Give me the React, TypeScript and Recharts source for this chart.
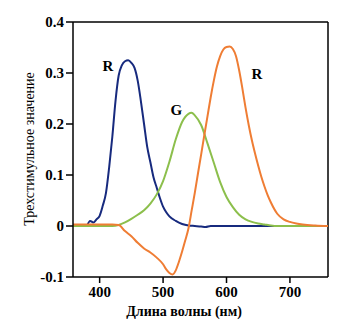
import { LineChart, Line, XAxis, YAxis, ReferenceLine, ReferenceDot, Label } from 'recharts';

// wavelength (nm) and tristimulus values
const blueNm = [380, 385, 390, 395, 400, 405, 410, 415, 420, 425, 430, 435, 440, 445, 450, 455, 460, 465, 470, 475, 480, 485, 490, 495, 500, 505, 510, 520, 530, 540, 550, 560, 567, 575, 600, 650, 700, 760];
const blueVal = [0, 0.01, 0.007, 0.013, 0.02, 0.04, 0.065, 0.115, 0.175, 0.245, 0.295, 0.315, 0.323, 0.325, 0.32, 0.31, 0.285, 0.245, 0.2, 0.155, 0.125, 0.095, 0.075, 0.055, 0.038, 0.027, 0.019, 0.01, 0.004, 0.001, 0, -0.001, -0.002, 0, 0, 0, 0, 0];

const greenNm = [358, 380, 400, 420, 430, 440, 450, 460, 470, 480, 490, 500, 510, 520, 530, 540, 545, 550, 560, 570, 580, 590, 600, 610, 620, 630, 640, 650, 660, 670, 680, 700, 760];
const greenVal = [0, 0, 0, 0, 0.002, 0.007, 0.014, 0.022, 0.031, 0.044, 0.062, 0.088, 0.126, 0.17, 0.204, 0.22, 0.222, 0.217, 0.198, 0.162, 0.124, 0.086, 0.057, 0.037, 0.022, 0.013, 0.008, 0.005, 0.003, 0.001, 0, 0, 0];

const orangeNm = [358, 380, 400, 420, 430, 440, 450, 460, 470, 480, 490, 500, 505, 510, 515, 520, 525, 530, 535, 540, 545, 550, 555, 560, 565, 570, 575, 580, 585, 590, 595, 600, 605, 610, 615, 620, 625, 630, 635, 640, 645, 650, 655, 660, 665, 670, 680, 690, 700, 710, 720, 740, 760];
const orangeVal = [0.003, 0.003, 0.003, 0.003, 0.002, -0.01, -0.02, -0.033, -0.044, -0.052, -0.062, -0.075, -0.085, -0.092, -0.095, -0.087, -0.07, -0.05, -0.028, -0.005, 0.03, 0.065, 0.103, 0.14, 0.178, 0.215, 0.252, 0.285, 0.313, 0.333, 0.346, 0.351, 0.352, 0.347, 0.333, 0.305, 0.27, 0.232, 0.198, 0.168, 0.142, 0.118, 0.096, 0.077, 0.06, 0.046, 0.024, 0.013, 0.008, 0.005, 0.003, 0.001, 0];

const xTicks = [400, 500, 600, 700];
const yTicks = [-0.1, 0, 0.1, 0.2, 0.3, 0.4];

// curve labels: [text, wavelength, value]
const curveLabels: [string, number, number][] = [
  ['R', 413, 0.315],
  ['G', 521, 0.228],
  ['R', 648, 0.298],
];

const toPoints = (nm: number[], val: number[]) => nm.map((x, i) => ({ x, y: val[i] }));

const serif = "'Liberation Serif', 'DejaVu Serif', serif";

export default function App() {
  return (
    <div style={{ position: 'absolute', left: 0, top: 0 }}>
      <LineChart width={348} height={324} margin={{ top: 22, right: 20, bottom: 17, left: 0 }}>
        <XAxis
          type="number"
          dataKey="x"
          domain={[358, 760]}
          ticks={xTicks}
          allowDataOverflow
          height={30}
          stroke="#000"
          strokeWidth={1.5}
          tickSize={6}
          tickMargin={3}
          tick={{ fill: '#000', fontSize: 15, fontFamily: serif, fontWeight: 'bold' }}
        >
          <Label
            content={() => (
              <text x={184} y={316} textAnchor="middle" fill="#000" fontSize={14} style={{ fontFamily: serif }} fontWeight="bold">
                Длина волны (нм)
              </text>
            )}
          />
        </XAxis>
        <YAxis
          type="number"
          dataKey="y"
          domain={[-0.1, 0.4]}
          ticks={yTicks}
          allowDataOverflow
          width={73}
          stroke="#000"
          strokeWidth={1.5}
          tickSize={7}
          tickMargin={2}
          tickFormatter={(v: number) => (v === 0 ? '0' : String(Math.round(v * 10) / 10))}
          tick={{ fill: '#000', fontSize: 15, fontFamily: serif, fontWeight: 'bold' }}
        >
          <Label
            content={() => (
              <text
                x={29}
                y={149}
                transform="rotate(-90 29 149)"
                textAnchor="middle"
                dominantBaseline="central"
                fill="#000"
                fontSize={14}
                style={{ fontFamily: serif }}
              >
                Трехстимульное значение
              </text>
            )}
          />
        </YAxis>
        <ReferenceLine y={0.4} stroke="#000" strokeWidth={1.5} />
        <ReferenceLine x={760} stroke="#000" strokeWidth={1.5} />
        <Line data={toPoints(blueNm, blueVal)} dataKey="y" type="monotone" stroke="#172a7e" strokeWidth={2} dot={false} isAnimationActive={false} />
        <Line data={toPoints(greenNm, greenVal)} dataKey="y" type="monotone" stroke="#8cbf4c" strokeWidth={2} dot={false} isAnimationActive={false} />
        <Line data={toPoints(orangeNm, orangeVal)} dataKey="y" type="monotone" stroke="#ef7d34" strokeWidth={2} dot={false} isAnimationActive={false} />
        {curveLabels.map(([t, x, y], i) => (
          <ReferenceDot
            key={i}
            x={x}
            y={y}
            r={0}
            fill="none"
            stroke="none"
            label={{ value: t, position: 'center', fill: '#000', fontSize: 15, fontFamily: serif, fontWeight: 'bold' }}
          />
        ))}
      </LineChart>
    </div>
  );
}
